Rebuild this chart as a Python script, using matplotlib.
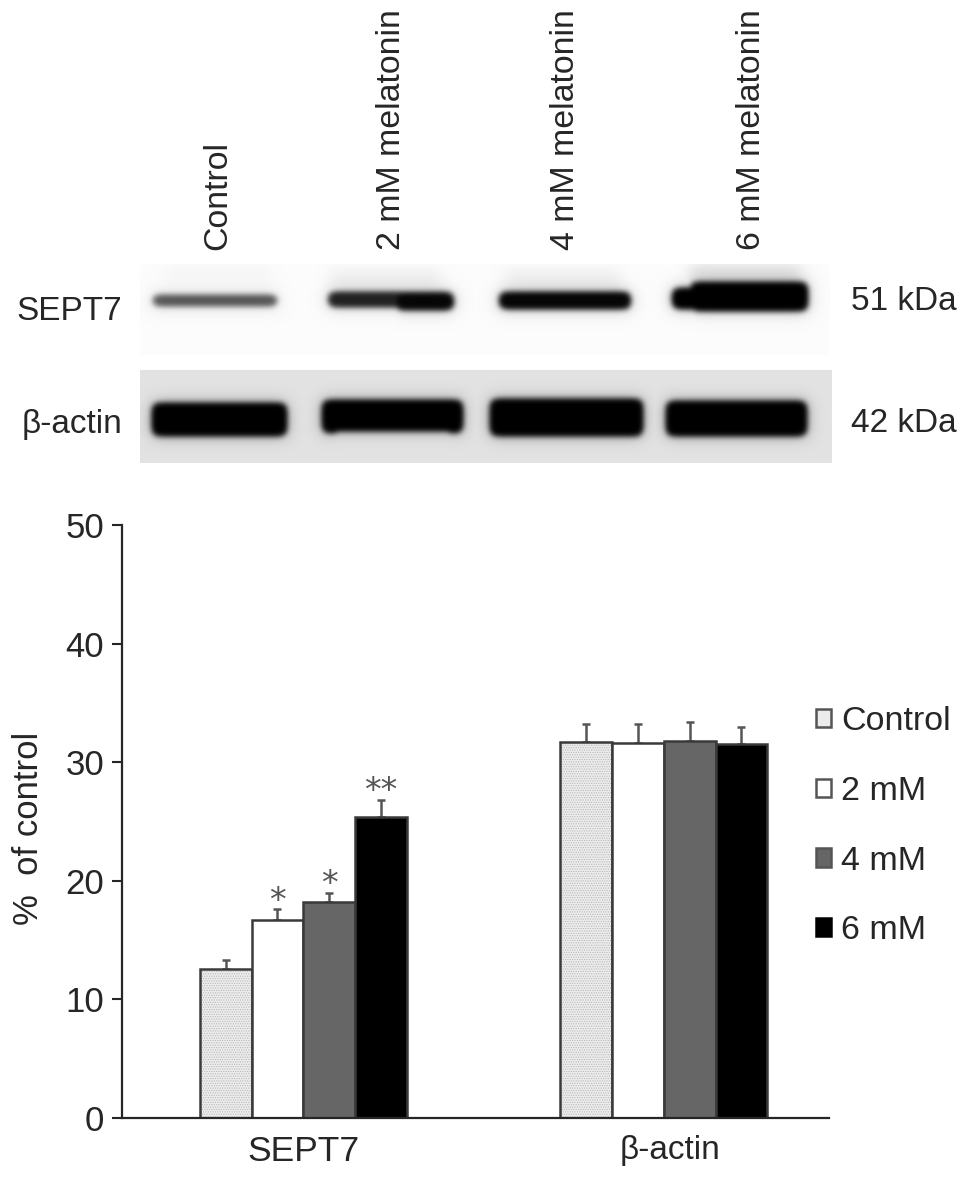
import numpy as np
import matplotlib
matplotlib.use("Agg")
import matplotlib.pyplot as plt
from matplotlib.patches import Patch
from matplotlib.transforms import ScaledTranslation

plt.rcParams['font.family'] = ['Liberation Sans', 'DejaVu Sans']
plt.rcParams['hatch.linewidth'] = 0.5

W, H = 969, 1177

# ---- data ----
groups = ['SEPT7', 'β-actin']
series = ['Control', '2 mM', '4 mM', '6 mM']
sept7 = [12.6, 16.7, 18.2, 25.4]
actin = [31.7, 31.6, 31.8, 31.5]
sept7_err = [0.7, 0.9, 0.8, 1.4]
actin_err = [1.5, 1.6, 1.6, 1.5]
sept7_sig = ['', '*', '*', '**']
yticks = [0, 10, 20, 30, 40, 50]
lane_labels = ['Control', '2 mM melatonin', '4 mM melatonin', '6 mM melatonin']
colors = ['#ececec', '#ffffff', '#666666', '#000000']

# blot bands: x start, x end, y centre, thickness, darkness (pixels of the blot picture)
sept7_bands = [(152, 277, 300, 10, 0.62), (328, 453, 299, 15, 0.84), (395, 453, 301, 16, 0.97),
               (499, 630, 300, 17, 0.97), (690, 807, 296, 28, 1.0), (672, 705, 298, 20, 1.0)]
actin_bands = [(152, 286, 419, 33, 1.0), (322, 462, 415, 31, 1.0), (322, 340, 419, 26, 1.0),
               (445, 462, 419, 26, 1.0), (490, 642, 417, 36, 1.0), (666, 806, 418, 34, 1.0)]
ghost_bands = [(690, 800, 272, 12, 0.14), (330, 440, 280, 18, 0.06),
               (505, 620, 280, 18, 0.06), (165, 270, 275, 14, 0.03)]


def to_fig(x, y):
    return x / W, 1 - y / H


def blur(a, sigma):
    r = int(3 * sigma) + 1
    k = np.exp(-0.5 * (np.arange(-r, r + 1) / sigma) ** 2)
    k /= k.sum()
    a = np.apply_along_axis(lambda v: np.convolve(np.pad(v, r, mode='edge'), k, 'valid'), 0, a)
    a = np.apply_along_axis(lambda v: np.convolve(np.pad(v, r, mode='edge'), k, 'valid'), 1, a)
    return a


def blot(x0, y0, x1, y1, bg, bands, extra=()):
    yy, xx = np.mgrid[y0:y1, x0:x1]
    dark = np.zeros(xx.shape)
    for bx0, bx1, yc, th, d in extra:
        dark = np.maximum(dark, d * ((xx >= bx0) & (xx <= bx1) & (np.abs(yy - yc) <= th / 2)))
    dark = blur(dark, 7)
    ink = np.zeros(xx.shape)
    halo = np.zeros(xx.shape)
    for bx0, bx1, yc, th, d in bands:
        mask = ((xx >= bx0) & (xx <= bx1) & (np.abs(yy - yc) <= th / 2)).astype(float)
        soft = blur(mask, 4.5)
        ink = np.maximum(ink, np.clip((soft - 0.28) / 0.35, 0, 1) * d)
        halo = np.maximum(halo, blur(mask, 8) * d)
    ink = blur(ink, 2.4)
    img = np.clip(bg - dark - 0.3 * halo, 0, 1) * (1 - ink)
    ax = fig.add_axes([x0 / W, 1 - y1 / H, (x1 - x0) / W, (y1 - y0) / H])
    ax.imshow(img, cmap='gray', vmin=0, vmax=1, aspect='auto', interpolation='bilinear')
    ax.axis('off')


fig = plt.figure(figsize=(W / 100, H / 100), dpi=100, facecolor='white')

# ---- blot panels ----
blot(140, 264, 830, 355, 0.985, sept7_bands, ghost_bands)
blot(140, 370, 832, 463, 0.885, actin_bands)

ink = '#262626'
for lbl, x in zip(lane_labels, [218, 392, 565, 751]):
    fig.text(*to_fig(x, 250), lbl, rotation=90, ha='center', va='bottom', fontsize=24.4, color=ink)
fig.text(*to_fig(122, 311), 'SEPT7', ha='right', va='center', fontsize=24, color=ink)
fig.text(*to_fig(122, 424), 'β-actin', ha='right', va='center', fontsize=24, color=ink)
fig.text(*to_fig(851, 301), '51 kDa', ha='left', va='center', fontsize=24, color=ink)
fig.text(*to_fig(851, 423), '42 kDa', ha='left', va='center', fontsize=24, color=ink)

# ---- bar chart ----
ax_l, ax_r, ax_t, ax_b = 122, 829, 525, 1118
ax = fig.add_axes([ax_l / W, 1 - ax_b / H, (ax_r - ax_l) / W, (ax_b - ax_t) / H])
ax.set_ylim(0, 50)
ax.set_xlim(-0.503, 1.458)

bw = 0.1434
group_vals = np.array([sept7, actin]).T
group_errs = np.array([sept7_err, actin_err]).T
handles = []
for i, name in enumerate(series):
    xs = np.arange(len(groups)) + (i - 1.5) * bw
    if i == 0:
        ax.bar(xs, group_vals[i], bw, color=colors[i], edgecolor='#b4b4b4', linewidth=0,
               hatch='.......', zorder=2)
        ax.bar(xs, group_vals[i], bw, color='none', edgecolor='#3a3a3a', linewidth=1.8, zorder=2)
    else:
        ax.bar(xs, group_vals[i], bw, color=colors[i], edgecolor='#3a3a3a', linewidth=1.8, zorder=2)
    ax.errorbar(xs, group_vals[i], yerr=[np.zeros(2), group_errs[i]], fmt='none',
                ecolor='#555555', elinewidth=1.8, capsize=3.2, capthick=1.8, zorder=1)
    handles.append(Patch(facecolor=colors[i], edgecolor='#555555' if i < 3 else '#000000',
                         linewidth=1.8))
    if sept7_sig[i]:
        ax.annotate(sept7_sig[i], (xs[0], sept7[i] + sept7_err[i]), xytext=(0, -6),
                    textcoords='offset points', ha='center', va='bottom', fontsize=24,
                    family='DejaVu Sans', color='#555555')

ax.set_yticks(yticks)
ax.set_xticks([0, 1], groups)
ax.tick_params(axis='x', length=0, labelsize=24, pad=12, labelcolor=ink)
ax.tick_params(axis='y', length=7, width=1.5, labelsize=25, pad=6, color=ink, labelcolor=ink)
sept_lab, actin_lab = ax.get_xticklabels()
sept_lab.set_fontsize(25.5)
actin_lab.set_transform(actin_lab.get_transform() + ScaledTranslation(6 / 100, 0, fig.dpi_scale_trans))
for s in ['top', 'right']:
    ax.spines[s].set_visible(False)
for s in ['left', 'bottom']:
    ax.spines[s].set_linewidth(1.6)
    ax.spines[s].set_color(ink)
fig.text(*to_fig(29, 828), '%  of control', rotation=90, ha='center', va='center', fontsize=25, color=ink)

fig.legend(handles=handles, labels=series, loc='upper left', bbox_to_anchor=to_fig(816, 706), frameon=False,
           fontsize=24.5, labelcolor=ink, handlelength=0.45, handleheight=0.45, handletextpad=0.28,
           labelspacing=1.14, borderpad=0, borderaxespad=0)

fig.savefig('out.png', dpi=100, facecolor='white')
